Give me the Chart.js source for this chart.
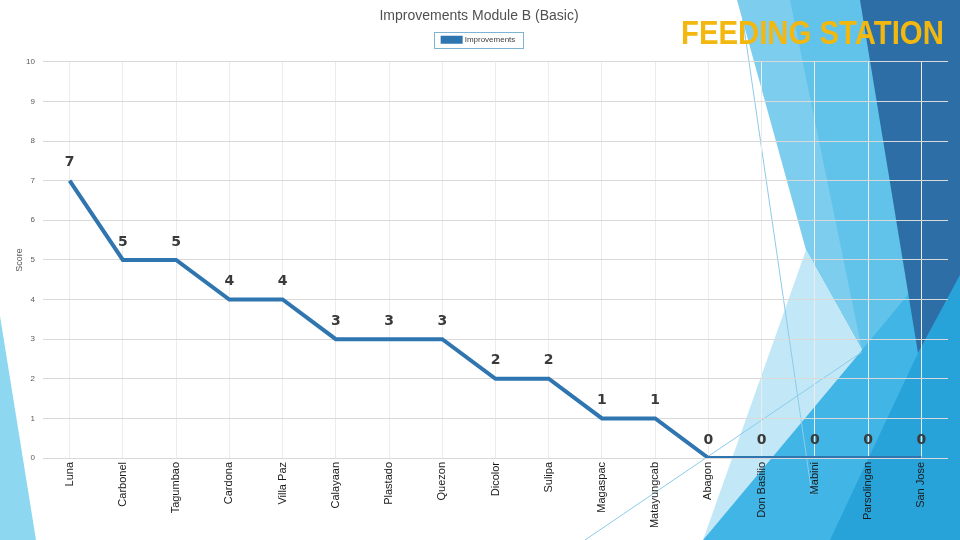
<!DOCTYPE html>
<html lang="en">

<head>
    <meta charset="UTF-8" />
    <title>Feeding Station - Improvements Module B</title>
    <script src="https://cdn.jsdelivr.net/npm/chart.js"></script>
    <style>
        body {
            margin: 0;
            background: #ffffff;
            font-family: "Liberation Sans", Arial, sans-serif;
        }

        #wrap {
            position: relative;
            width: 960px;
            height: 540px;
            overflow: hidden;
        }

        #station {
            position: absolute;
            left: 681px;
            top: 13px;
            font-family: "Liberation Sans", Arial, sans-serif;
            font-weight: bold;
            font-size: 33px;
            color: #f2b80f;
            white-space: nowrap;
            transform-origin: 0 0;
            line-height: 40px;
        }
    </style>
</head>

<body>
    <div id="wrap">
        <canvas id="chart" width="960" height="540"></canvas>
        <div id="station">FEEDING STATION</div>
    </div>

    <script>
        const barangays = ['Luna', 'Carbonel', 'Tagumbao', 'Cardona', 'Villa Paz', 'Calayaan', 'Plastado',
            'Quezon', 'Dicolor', 'Sulipa', 'Magaspac', 'Matayungcab', 'Abagon', 'Don Basilio',
            'Mabini', 'Parsolingan', 'San Jose'];
        const improvements = [7, 5, 5, 4, 4, 3, 3, 3, 2, 2, 1, 1, 0, 0, 0, 0, 0];
        const scoreTicks = [0, 1, 2, 3, 4, 5, 6, 7, 8, 9, 10];

        const lineColor = '#2f75b0';

        // slide background triangles (theme decoration, not data)
        const backdrop = {
            id: 'backdrop',
            beforeDraw(chart) {
                const c = chart.ctx;
                const poly = (pts, fill) => {
                    c.beginPath();
                    c.moveTo(pts[0][0], pts[0][1]);
                    for (let i = 1; i < pts.length; i++) c.lineTo(pts[i][0], pts[i][1]);
                    c.closePath();
                    c.fillStyle = fill;
                    c.fill();
                };
                c.save();
                poly([[0, 316], [36, 540], [0, 540]], '#8dd7f1');
                poly([[737, 0], [862, 0], [918, 353], [862, 350], [806, 250]], '#7ccdee');
                poly([[790, 0], [862, 0], [918, 353], [862, 350]], '#62c3ea');
                poly([[806, 250], [862, 350], [703, 540]], '#c2e8f8');
                poly([[703, 540], [862, 350], [960, 232], [960, 540]], '#40b5e6');
                poly([[830, 540], [918, 353], [960, 275], [960, 540]], '#27a3da');
                poly([[860, 0], [960, 0], [960, 275], [918, 353]], '#2c6ea5');
                c.strokeStyle = '#8ccbe8';
                c.lineWidth = 1;
                c.beginPath();
                c.moveTo(740, 0);
                c.lineTo(812, 495);
                c.moveTo(585, 540);
                c.lineTo(862, 352);
                c.stroke();
                c.restore();
            }
        };

        const valueLabels = {
            id: 'valueLabels',
            afterDatasetsDraw(chart) {
                const c = chart.ctx;
                const meta = chart.getDatasetMeta(0);
                c.save();
                c.font = 'bold 14px "DejaVu Sans", sans-serif';
                c.fillStyle = '#3a3a3a';
                c.textAlign = 'center';
                c.textBaseline = 'middle';
                meta.data.forEach((pt, i) => {
                    c.fillText(String(improvements[i]), pt.x, pt.y - 18);
                });
                c.restore();
            }
        };

        // framed legend and a little extra room under it
        const legendFrame = {
            id: 'legendFrame',
            beforeLayout(chart) {
                const lg = chart.legend;
                if (lg && !lg._padded) {
                    const fit = lg.fit;
                    lg.fit = function () {
                        fit.call(this);
                        this.height += 8;
                    };
                    lg._padded = true;
                }
            },
            afterDraw(chart) {
                const lg = chart.legend;
                if (!lg || !lg.legendHitBoxes.length) return;
                const b = lg.legendHitBoxes[0];
                const c = chart.ctx;
                c.save();
                c.strokeStyle = '#7fb3d3';
                c.lineWidth = 1;
                c.strokeRect(Math.round(b.left - 9) + 0.5, Math.round(b.top - 4) + 0.5, Math.round(b.width + 16), Math.round(b.height + 8));
                c.restore();
            }
        };

        new Chart(document.getElementById('chart'), {
            type: 'line',
            data: {
                labels: barangays,
                datasets: [{
                    label: 'Improvements',
                    data: improvements,
                    borderColor: lineColor,
                    backgroundColor: lineColor,
                    borderWidth: 4,
                    pointRadius: 0,
                    tension: 0,
                    fill: false
                }]
            },
            options: {
                responsive: false,
                animation: false,
                layout: { padding: { left: 10, right: 12, top: 0, bottom: 0 } },
                plugins: {
                    title: {
                        display: true,
                        text: 'Improvements Module B (Basic)',
                        color: '#505050',
                        font: { family: '"Liberation Sans", Arial, sans-serif', size: 14, weight: 'normal' },
                        padding: { top: 8, bottom: 5 }
                    },
                    legend: {
                        display: true,
                        labels: {
                            color: '#404040',
                            font: { family: '"Liberation Sans", Arial, sans-serif', size: 8 },
                            boxWidth: 18,
                            boxHeight: 4,
                            padding: 6
                        }
                    },
                    tooltip: { enabled: false }
                },
                scales: {
                    x: {
                        offset: true,
                        grid: { color: '#ececec', drawTicks: false },
                        border: { display: false },
                        ticks: {
                            color: '#1a1a1a',
                            font: { family: '"Liberation Sans", Arial, sans-serif', size: 11 },
                            minRotation: 90,
                            maxRotation: 90,
                            padding: 4,
                            autoSkip: false
                        },
                        afterFit(scale) { scale.height = 82; }
                    },
                    y: {
                        min: scoreTicks[0],
                        max: scoreTicks[scoreTicks.length - 1],
                        afterBuildTicks(scale) {
                            scale.ticks = scoreTicks.map(v => ({ value: v }));
                        },
                        grid: { color: '#d9d9d9', drawTicks: false },
                        border: { display: false },
                        ticks: {
                            color: '#595959',
                            font: { family: '"Liberation Sans", Arial, sans-serif', size: 8 },
                            padding: 8
                        },
                        title: {
                            display: true,
                            text: 'Score',
                            color: '#595959',
                            font: { family: '"Liberation Sans", Arial, sans-serif', size: 9 },
                            padding: { top: 4, bottom: 0 }
                        },
                        afterFit(scale) { scale.width = 33; }
                    }
                }
            },
            plugins: [backdrop, valueLabels, legendFrame]
        });

        // squeeze the heading to the width it has on the slide
        const st = document.getElementById('station');
        st.style.transform = 'scaleX(' + (263 / st.scrollWidth) + ')';
    </script>
</body>

</html>
